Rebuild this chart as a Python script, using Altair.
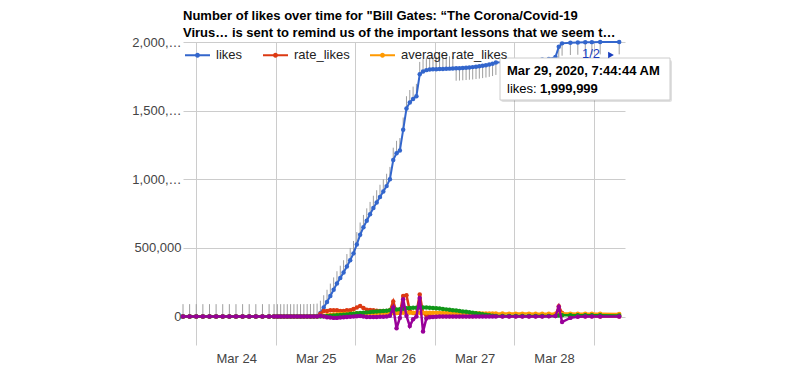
import altair as alt
import pandas as pd

# ---------------- data ----------------
BASE = "2020-03-24T00:00:00"   # hours below are offsets from this moment

hours = [
    -4, -2, 0, 2, 4, 6, 8, 10, 12, 14, 16, 18, 20, 22,
    23.5, 24.5, 25.5, 26.5, 27.5, 28.5, 29.5, 30.5, 31.5, 32.5, 33.5, 34.5, 35.5, 36.5,
    37.5, 38.5, 39.5, 40.5, 41.5, 42.5, 43.5, 44.5, 45.5, 46.5,
    47.5, 48.5, 49.5, 50.5, 51.5, 52.5, 53.5, 54.5, 55.5, 56.5,
    57.5, 58.5, 59.5, 60.5, 61.5, 62.5, 63.5, 64.5, 65.5, 66.5,
    67.5, 68.5, 69.5, 70.5,
    71.5, 72.5, 73.5, 74.5, 75.5, 76.5, 77.5, 78.5, 79.5, 80.5,
    81.5, 82.5, 83.5, 84.5, 85.5, 86.5, 87.5, 88.5, 89.5, 90.5,
    92.5, 94.5, 96.5, 98.5, 100.5, 102.5, 104.5, 106.5, 108.5,
    109.5, 110.5, 113, 115.25, 117.5, 119.5, 122, 127.745556,
]

# values in thousands
likes_k = [
    0, 0, 0, 0, 0, 0, 0, 0, 0, 0, 0, 0, 0, 0,
    0, 0, 0, 0, 0, 0, 0, 0, 0, 0, 1, 1, 2, 4,
    25, 65, 105, 150, 195, 240, 280, 320, 365, 410,
    460, 525, 595, 650, 698, 745, 790, 830, 870, 910,
    950, 1000, 1140, 1190, 1210, 1360, 1515, 1560, 1585, 1605,
    1765, 1785, 1795, 1800,
    1801, 1802, 1803, 1804, 1805, 1806, 1807, 1808, 1809, 1811,
    1813, 1815, 1817, 1820, 1823, 1827, 1831, 1836, 1842, 1850,
    1853, 1856, 1859, 1862, 1865, 1868, 1872, 1877, 1890,
    1965, 1990, 1995, 1997, 1998, 1999, 1999.5, 1999.999,
]
rate_likes_k = [
    0, 0, 0, 0, 0, 0, 0, 0, 0, 0, 0, 0, 0, 0,
    0, 0, 0, 0, 0, 0, 0, 0, 0, 0, 1, 0, 1, 2,
    21, 40, 40, 45, 45, 45, 40, 40, 45, 45,
    55, 66, 76, 62, 50, 48, 45, 42, 40, 40,
    40, 45, 110, 30, 25, 150, 155, 40, 25, 25,
    160, 25, 10, 5,
    1, 1, 1, 1, 1, 1, 1, 1, 1, 2,
    2, 2, 2, 3, 3, 4, 4, 5, 6, 8,
    2, 2, 2, 2, 2, 2, 2, 3, 7,
    75, 25, 3, 1, 1, 1, 0, 0,
]
avg_rate_likes_k = [
    0, 0, 0, 0, 0, 0, 0, 0, 0, 0, 0, 0, 0, 0,
    0, 0, 0, 0, 0, 0, 0, 0, 0, 0, 0, 0, 0, 0,
    3, 6, 9, 12, 14, 16, 18, 19, 20, 21,
    22, 23, 24, 24, 25, 25, 25, 25, 25, 25,
    25, 25, 26, 26, 26, 27, 27, 27, 27, 27,
    28, 28, 28, 27,
    27, 27, 26, 26, 26, 25, 25, 25, 24, 24,
    24, 23, 23, 23, 23, 22, 22, 22, 22, 22,
    22, 21, 21, 21, 21, 20, 20, 20, 20,
    21, 21, 21, 20, 20, 20, 20, 19,
]
series4_k = [
    0, 0, 0, 0, 0, 0, 0, 0, 0, 0, 0, 0, 0, 0,
    0, 0, 0, 0, 0, 0, 0, 0, 0, 0, 0, 0, 0, 0,
    0, 2, 3, 5, 7, 9, 11, 13, 15, 18,
    20, 23, 26, 28, 30, 32, 34, 36, 38, 40,
    42, 45, 48, 51, 53, 57, 60, 62, 63, 64,
    66, 66, 65, 64,
    62, 60, 58, 55, 52, 49, 46, 43, 40, 37,
    34, 31, 28, 24, 20, 16, 12, 9, 6, 4,
    3, 3, 3, 3, 3, 3, 3, 3, 4,
    7, 9, 10, 10, 10, 9, 9, 8,
]
series5_k = [
    0, 0, 0, 0, 0, 0, 0, 0, 0, 0, 0, 0, 0, 0,
    0, 0, 0, 0, 0, 0, 0, 0, 0, 0, 0, 0, 0, 0,
    5, 0, -5, -8, -10, -10, -8, -5, -3, -2,
    0, 2, 3, 0, -3, -4, -4, -3, -2, -2,
    0, 5, 65, -86, -10, 125, 5, -70, -20, 0,
    135, -110, -15, -5,
    -3, -1, 0, 0, 0, 0, 0, 0, 0, 0,
    0, 0, 0, 0, 0, 0, 0, 0, 0, 0,
    0, 0, 0, 0, 0, 0, 0, 1, 4,
    70, -40, -10, -2, 0, 0, 0, 0,
]

SERIES = ["likes", "rate_likes", "average rate_likes", "series 4", "series 5"]
SERIES_VALUES = [likes_k, rate_likes_k, avg_rate_likes_k, series4_k, series5_k]
LEGEND_SHOWN = ["likes", "rate_likes", "average rate_likes"]
Y_TICKS = [0, 500000, 1000000, 1500000, 2000000]
X_GRID_DAYS = [24, 25, 26, 27, 28, 29]
TITLE_LINES = [
    "Number of likes over time for \"Bill Gates: \u201cThe Corona/Covid-19",
    "Virus\u2026 is sent to remind us of the important lessons that we seem t\u2026",
]
PAGER = ["1/2"]

# ---------------- styles ----------------
COLORS = ["#3366cc", "#dc3912", "#ff9900", "#109618", "#990099"]
WIDTHS = [2, 2.5, 2.5, 2.5, 2.5]
FONT = "Liberation Sans"
STEM = 90000  # annotation stem length in value units

# ---------------- table ----------------
base = pd.Timestamp(BASE)
times = [(base + pd.to_timedelta(h, unit="h")).round("s") for h in hours]
rows = []
for name, vals in zip(SERIES, SERIES_VALUES):
    for h, t, v in zip(hours, times, vals):
        rows.append({"time": t, "hour": h, "series": name, "value": round(v * 1000)})
df = pd.DataFrame(rows)

tip_df = pd.DataFrame({"time": [times[-1]], "value": [round(likes_k[-1] * 1000)]})
pager_df = pd.DataFrame({"label": PAGER})

x_scale = alt.Scale(
    domain=[alt.DateTime(year=2020, month=3, date=23, hours=20),
            alt.DateTime(year=2020, month=3, date=29, hours=9, minutes=30)]
)
y_scale = alt.Scale(domain=[-207600, 2000000], nice=False, zero=False)

x_axis = alt.Axis(
    values=[alt.DateTime(year=2020, month=3, date=d) for d in X_GRID_DAYS],
    labelExpr="date(datum.value) == 29 ? '' : timeFormat(datum.value, '%b %d')",
    labelOffset=40, labelPadding=7, labelFlush=False, labelOverlap=False,
    grid=True, ticks=False, tickSize=0, domain=False, title=None,
)
y_axis = alt.Axis(
    values=Y_TICKS,
    labelExpr="datum.value >= 1000000 ? substring(format(datum.value, ','), 0, 6) + '\u2026' : format(datum.value, ',')",
    labelPadding=2, grid=True, ticks=False, tickSize=0, domain=False, title=None,
)

X = alt.X("time:T", scale=x_scale, axis=x_axis)
Y = alt.Y("value:Q", scale=y_scale, axis=y_axis)

SYM = ("M-1,-0.08H1V0.08H-1Z "
       "M-0.2,0A0.2,0.2,0,1,1,0.2,0A0.2,0.2,0,1,1,-0.2,0Z")
leg = alt.Legend(
    orient="none", legendX=2, legendY=0.5, direction="horizontal", title=None,
    values=LEGEND_SHOWN, symbolType=SYM, symbolSize=625, symbolStrokeWidth=0,
    symbolOpacity=1, labelFont=FONT, labelFontSize=13, labelColor="#222",
    labelOffset=6, columnPadding=20, padding=0,
)
color_enc = alt.Color("series:N", scale=alt.Scale(domain=SERIES, range=COLORS), legend=leg)

layers = []

# annotation stems
stems = (
    alt.Chart()
    .transform_filter(alt.datum.series == "likes")
    .transform_calculate(stem_end=f"datum.hour < 78.5 ? datum.value + {STEM} : datum.value - {STEM}")
    .mark_rule(color="#9e9e9e", strokeWidth=1)
    .encode(x=X, y=Y, y2="stem_end:Q")
)
layers.append(stems)

for name, col, w in zip(SERIES, COLORS, WIDTHS):
    line = (
        alt.Chart()
        .transform_filter(alt.datum.series == name)
        .mark_line(strokeWidth=w, color=col)
        .encode(x=X, y=Y)
    )
    pts = (
        alt.Chart()
        .transform_filter(alt.datum.series == name)
        .mark_point(filled=True, size=20, opacity=1)
        .encode(x=X, y=Y, color=color_enc)
    )
    layers += [line, pts]

# tooltip box (built from the last data point)
tip_shadow = alt.Chart(tip_df).mark_rect(color="#000", opacity=0.12, cornerRadius=2).encode(
    x=alt.value(318), x2=alt.value(489), y=alt.value(18), y2=alt.value(60))
tip_box = alt.Chart(tip_df).mark_rect(fill="#ffffff", stroke="#cccccc", strokeWidth=1).encode(
    x=alt.value(317), x2=alt.value(487), y=alt.value(16), y2=alt.value(58))
tip_t1 = alt.Chart(tip_df).mark_text(align="left", baseline="alphabetic", font=FONT, fontSize=13,
                                     fontWeight="bold", color="#000").encode(
    x=alt.value(324), y=alt.value(33),
    text=alt.Text("time:T", format="%b %-d, %Y, %-I:%M:%S %p"))
tip_t2 = alt.Chart(tip_df).transform_calculate(lab="'likes: '").mark_text(
    align="left", baseline="alphabetic", font=FONT, fontSize=13, color="#000").encode(
    x=alt.value(324), y=alt.value(50.7), text="lab:N")
tip_t3 = alt.Chart(tip_df).mark_text(align="left", baseline="alphabetic", font=FONT, fontSize=13,
                                     fontWeight="bold", color="#000").encode(
    x=alt.value(357), y=alt.value(50.7), text=alt.Text("value:Q", format=","))

pager_txt = alt.Chart(pager_df).mark_text(align="left", baseline="middle", font=FONT, fontSize=13,
                                          color="#1a3fbf").encode(
    x=alt.value(399), y=alt.value(12), text="label:N")
pager_arrow = alt.Chart(pager_df).mark_point(shape="triangle-right", filled=True, size=45,
                                             color="#1a3fbf", opacity=1).encode(
    x=alt.value(428), y=alt.value(13))

layers += [tip_shadow, tip_box, tip_t1, tip_t2, tip_t3, pager_txt, pager_arrow]

chart = (
    alt.layer(*layers, data=df)
    .properties(
        width=442, height=303,
        title=alt.TitleParams(TITLE_LINES, anchor="start", frame="group", font=FONT, fontSize=13,
                              fontWeight="bold", color="#000", lineHeight=17, offset=4, dy=8),
        padding={"left": 175, "top": 34, "right": 52, "bottom": 20},
        autosize=alt.AutoSizeParams(type="none"),
    )
    .configure(font=FONT)
    .configure_view(stroke=None)
    .configure_axis(gridColor="#cccccc", gridWidth=1, labelFont=FONT, labelFontSize=13,
                    labelColor="#444444")
)

chart.save("out.html", embed_options={"renderer": "svg", "actions": False})
